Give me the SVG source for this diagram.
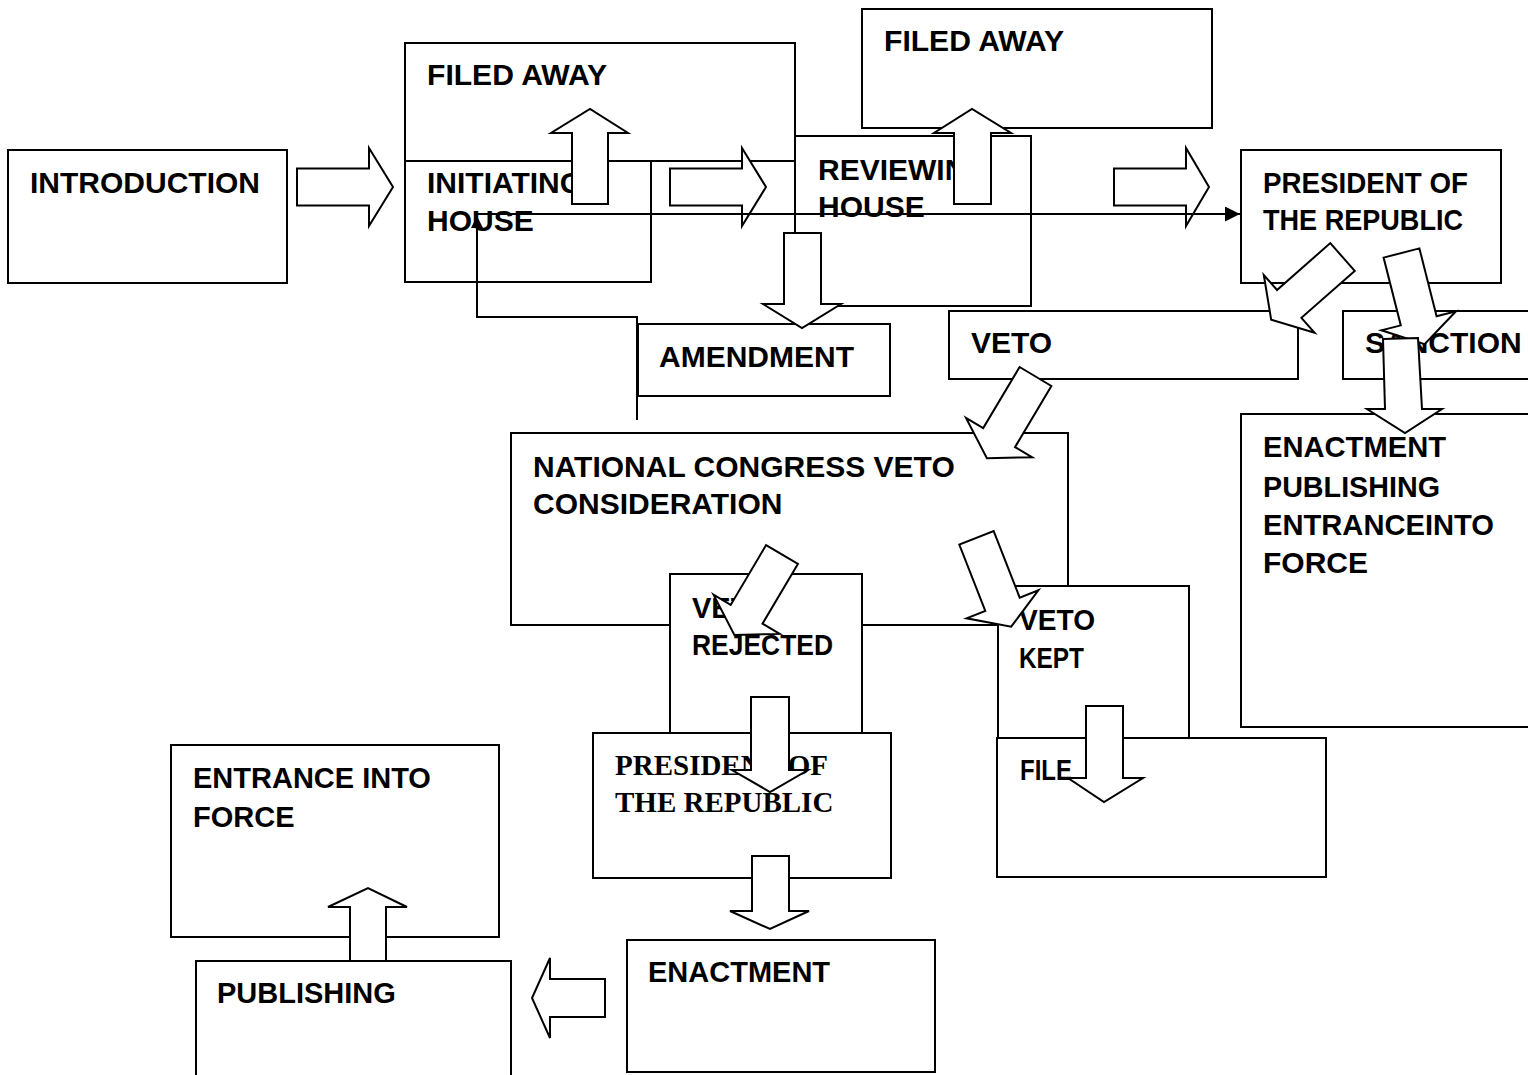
<svg xmlns="http://www.w3.org/2000/svg" width="1528" height="1075" viewBox="0 0 1528 1075">
<defs>
<style>
.box{fill:#fff;stroke:#000;stroke-width:2}
.blk{fill:#fff;stroke:#000;stroke-width:2;stroke-linejoin:miter}
.ln{fill:none;stroke:#000;stroke-width:2}
.t{font-family:"Liberation Sans",Arial,sans-serif;font-weight:bold;font-size:30px;fill:#000}
.c{font-family:"Liberation Sans",Arial,sans-serif;font-weight:bold;font-size:29px;fill:#000}
.s{font-family:"Liberation Serif","Times New Roman",serif;font-weight:bold;font-size:29px;fill:#000}
</style>
<marker id="ah" viewBox="0 0 15 15" refX="15" refY="7.5" markerWidth="15" markerHeight="15" orient="auto" markerUnits="userSpaceOnUse">
<path d="M0,0 L15,7.5 L0,15 z" fill="#000"/>
</marker>
<marker id="ah2" viewBox="0 0 12 12" refX="12" refY="6" markerWidth="12" markerHeight="12" orient="auto" markerUnits="userSpaceOnUse">
<path d="M0,0 L12,6 L0,12 z" fill="#000"/>
</marker>
</defs>
<rect width="1528" height="1075" fill="#fff"/>

<g id="introduction"><rect class="box" x="8" y="150" width="279" height="133"/><text class="t" x="30" y="193">INTRODUCTION</text></g>
<g id="filed-away-1"><rect class="box" x="405" y="43" width="390" height="118"/><text class="t" x="427" y="85" textLength="180" lengthAdjust="spacingAndGlyphs">FILED AWAY</text></g>
<g id="initiating-house"><rect class="box" x="405" y="161" width="246" height="121"/><text class="t" x="427" y="193">INITIATING</text><text class="t" x="427" y="231">HOUSE</text></g>
<g id="filed-away-2"><rect class="box" x="862" y="9" width="350" height="119"/><text class="t" x="884" y="51" textLength="180" lengthAdjust="spacingAndGlyphs">FILED AWAY</text></g>
<g id="reviewing-house"><rect class="box" x="795" y="136" width="236" height="170"/><text class="t" x="818" y="180">REVIEWING</text><text class="t" x="818" y="217">HOUSE</text></g>
<g id="president-1"><rect class="box" x="1241" y="150" width="260" height="133"/><text class="t" x="1263" y="193" textLength="205" lengthAdjust="spacingAndGlyphs">PRESIDENT OF</text><text class="t" x="1263" y="230" textLength="200" lengthAdjust="spacingAndGlyphs">THE REPUBLIC</text></g>
<g id="amendment"><rect class="box" x="638" y="324" width="252" height="72"/><text class="t" x="659" y="367">AMENDMENT</text></g>
<g id="veto"><rect class="box" x="949" y="311" width="349" height="68"/><text class="t" x="971" y="353">VETO</text></g>
<g id="sanction"><rect class="box" x="1343" y="311" width="200" height="68"/><text class="t" x="1365" y="353">SANCTION</text></g>
<g id="enactment-publishing"><rect class="box" x="1241" y="414" width="300" height="313"/><text class="t" x="1263" y="457" textLength="183" lengthAdjust="spacingAndGlyphs">ENACTMENT</text><text class="t" x="1263" y="497" textLength="177" lengthAdjust="spacingAndGlyphs">PUBLISHING</text><text class="t" x="1263" y="535" textLength="231" lengthAdjust="spacingAndGlyphs">ENTRANCEINTO</text><text class="t" x="1263" y="573">FORCE</text></g>
<g id="national-congress"><rect class="box" x="511" y="433" width="557" height="192"/><text class="t" x="533" y="477">NATIONAL CONGRESS VETO</text><text class="t" x="533" y="514">CONSIDERATION</text></g>
<g id="veto-rejected"><rect class="box" x="670" y="574" width="192" height="170"/><text class="c" x="692" y="618">VETO</text><text class="c" x="692" y="655" textLength="141" lengthAdjust="spacingAndGlyphs">REJECTED</text></g>
<g id="veto-kept"><rect class="box" x="998" y="586" width="191" height="160"/><text class="c" x="1019" y="630" textLength="76" lengthAdjust="spacingAndGlyphs">VETO</text><text class="c" x="1019" y="668" textLength="65" lengthAdjust="spacingAndGlyphs">KEPT</text></g>
<g id="president-2"><rect class="box" x="593" y="733" width="298" height="145"/><text class="s" x="615" y="775">PRESIDENT OF</text><text class="s" x="615" y="812">THE REPUBLIC</text></g>
<g id="file"><rect class="box" x="997" y="738" width="329" height="139"/><text class="c" x="1020" y="780" textLength="52" lengthAdjust="spacingAndGlyphs">FILE</text></g>
<g id="entrance-into-force"><rect class="box" x="171" y="745" width="328" height="192"/><text class="c" x="193" y="788">ENTRANCE INTO</text><text class="c" x="193" y="827">FORCE</text></g>
<g id="publishing"><rect class="box" x="196" y="961" width="315" height="130"/><text class="c" x="217" y="1003">PUBLISHING</text></g>
<g id="enactment"><rect class="box" x="627" y="940" width="308" height="132"/><text class="c" x="648" y="982">ENACTMENT</text></g>

<g id="connectors">
<polygon class="blk" points="297,168.5 369,168.5 369,148 393,187 369,226 369,205.5 297,205.5"/>
<polygon class="blk" points="670,168.5 742,168.5 742,148 766,187 742,226 742,205.5 670,205.5"/>
<polygon class="blk" points="1114,168.5 1186,168.5 1186,148 1209,187 1186,226 1186,205.5 1114,205.5"/>
<polygon class="blk" points="572,204 572,133 551,133 590,109 628,133 608,133 608,204"/>
<polygon class="blk" points="954,204 954,133 934,133 972,109 1011,133 991,133 991,204"/>
<polygon class="blk" points="784,233 784,304 763,304 802,328 841,304 821,304 821,233"/>
<polygon class="blk" points="1354.7,270.9 1301.4,317.8 1314.6,332.8 1271.2,319.8 1263.8,275 1277,290 1330.3,243.1"/>
<polygon class="blk" points="1419.4,248.4 1436.6,316.2 1456,311.3 1424.6,344.1 1381.4,330.3 1400.8,325.4 1383.6,257.6"/>
<polygon class="blk" points="1383,339 1385,409 1367,409 1405,433 1442,409 1422,409 1418,338"/>
<polygon class="blk" points="1051.4,386 1015,447.1 1032.2,457.3 986.9,458.2 966,417.9 983.2,428.1 1019.6,367"/>
<polygon class="blk" points="797.9,563.9 762.5,623.7 779.7,633.9 734.4,635 713.5,594.7 730.7,604.9 766.1,545.1"/>
<polygon class="blk" points="993.7,531.1 1019.7,597.6 1038.4,590.3 1011.2,626.7 966.6,618.3 985.3,611 959.3,544.5"/>
<polygon class="blk" points="751,697 751,770 732,770 770,792 808,770 789,770 789,697"/>
<polygon class="blk" points="1086,706 1086,778 1068,778 1104,802 1143,778 1123,778 1123,706"/>
<polygon class="blk" points="752,856 752,911 730,911 770,929 809,911 789,911 789,856"/>
<polygon class="blk" points="605,979 550,979 550,958 532,998 550,1038 550,1017 605,1017"/>
<polygon class="blk" points="350,961 350,907 328,907 368,888 407,907 386,907 386,961"/>
<path class="ln" d="M637,420 V317 H477 V216" marker-end="url(#ah2)"/>
<path class="ln" d="M477,214 H1240" marker-end="url(#ah)"/>
</g>
</svg>
